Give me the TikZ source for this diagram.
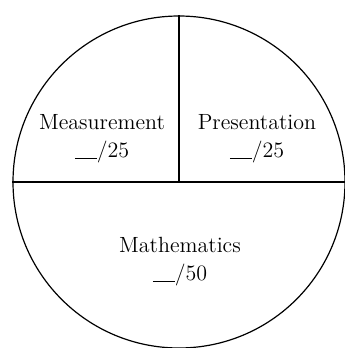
\documentclass[tikz,border=0pt]{standalone}
\usepackage{tikz}
\usetikzlibrary{positioning}

\newcommand{\scoreblank}{\rule[-0.5pt]{11pt}{0.5pt}}

\begin{document}
\begin{tikzpicture}[
  x=0.5pt, y=-0.5pt,
  part/.style={align=center, font=\fontsize{11}{14}\selectfont, inner sep=1pt},
  rim/.style={draw, circle, minimum size=166pt, inner sep=0pt, line width=0.6pt},
  cut/.style={line width=0.9pt}
]
\useasboundingbox (0,0) rectangle (344,348);
\node[rim] (pie) at (179,182) {};
\coordinate (ctr) at (179,182);
\node[part] (meas) at (102,139) {Measurement\\\scoreblank/25};
\node[part] (pres) at (257,139) {Presentation\\\scoreblank/25};
\node[part] (math) at (180,262) {Mathematics\\\scoreblank/50};
\draw[cut] (pie.north) -- (ctr);
\draw[cut] (pie.west) -- (pie.east);
\end{tikzpicture}
\end{document}
